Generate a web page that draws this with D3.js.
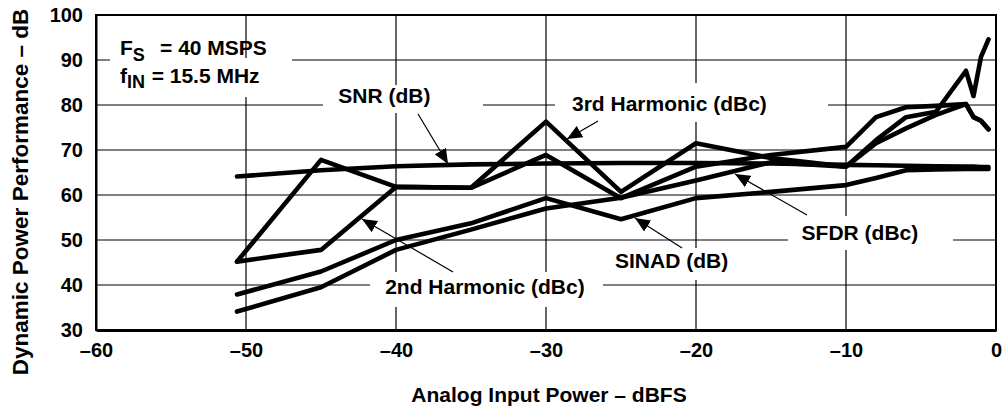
<!DOCTYPE html>
<html>
<head>
<meta charset="utf-8">
<script src="https://cdn.jsdelivr.net/npm/d3@7"></script>
<style>
  body { margin: 0; background: #fff; }
  text { font-family: "Liberation Sans", Arial, sans-serif; font-weight: bold; fill: #000; }
</style>
</head>
<body>
<div id="chart"></div>
<script>
'use strict';

// input power (dBFS) where each series was measured
const inputPower = [-50.6, -45, -40, -35, -30, -25, -20, -15, -10, -8, -6, -4, -2, -1.5, -1, -0.5];

// series values (dB / dBc)
const snr   = [64.1, 65.5, 66.4, 66.8, 67.0, 67.1, 67.1, 67.0, 66.7, 66.6, 66.5, 66.4, 66.3, 66.3, 66.2, 66.2];
const sinad = [37.9, 43.0, 50.0, 53.7, 59.3, 54.6, 59.3, 60.7, 62.2, 63.8, 65.5, 65.7, 65.8, 65.8, 65.8, 65.8];
const sfdr  = [34.1, 39.5, 47.8, 52.3, 57.0, 59.4, 63.2, 67.3, 66.3, 71.5, 74.8, 77.8, 80.2, 77.3, 76.5, 74.6];
const harm2 = [45.2, 47.8, 61.8, 61.6, 68.9, 59.3, 66.3, 68.9, 70.7, 77.3, 79.5, 79.8, 80.2, 77.3, 76.5, 74.6];
const harm3 = [45.2, 67.8, 61.8, 61.6, 76.3, 60.7, 71.5, 68.2, 66.3, 72.2, 77.3, 78.5, 87.6, 82.0, 90.7, 94.6];

const xTicks = [-60, -50, -40, -30, -20, -10, 0];
const yTicks = [30, 40, 50, 60, 70, 80, 90, 100];

const seriesList = [snr, sinad, sfdr, harm2, harm3];

const width = 1002, height = 407;

let svg = d3.select("#chart").append("svg")
  .attr("width", width)
  .attr("height", height);

let x = d3.scaleLinear().domain([-60, 0]).range([96, 996]);
let y = d3.scaleLinear().domain([30, 100]).range([330, 15]);

// grid
svg.append("g").selectAll("line")
  .data(yTicks.slice(1, -1))
  .enter().append("line")
  .attr("x1", x(-60)).attr("x2", x(0))
  .attr("y1", d => y(d)).attr("y2", d => y(d))
  .attr("stroke", "#000").attr("stroke-width", 1.2);

svg.append("g").selectAll("line")
  .data(xTicks.slice(1, -1))
  .enter().append("line")
  .attr("x1", d => x(d)).attr("x2", d => x(d))
  .attr("y1", y(100)).attr("y2", y(30))
  .attr("stroke", "#000").attr("stroke-width", 1.2);

// white boxes behind the labels (they cut the grid)
const boxes = [
  [-59.07, -46.93, 90.44, 81.78],   // Fs / fin
  [-44.87, -34.2, 84.44, 78.22],    // SNR
  [-29.4, -11.2, 84.89, 76.22],     // 3rd harmonic
  [-41.73, -26.2, 42.89, 35.11],    // 2nd harmonic
  [-26.2, -17.07, 48.22, 41.11],    // SINAD
  [-13.87, -2.87, 55.33, 47.78]     // SFDR
];
svg.append("g").selectAll("rect")
  .data(boxes)
  .enter().append("rect")
  .attr("x", d => x(d[0]))
  .attr("y", d => y(d[2]))
  .attr("width", d => x(d[1]) - x(d[0]))
  .attr("height", d => y(d[3]) - y(d[2]))
  .attr("fill", "#fff");

// frame
svg.append("rect")
  .attr("x", x(-60)).attr("y", y(100))
  .attr("width", x(0) - x(-60)).attr("height", y(30) - y(100))
  .attr("fill", "none").attr("stroke", "#000").attr("stroke-width", 2);

// axes
let xAxis = svg.append("g")
  .attr("transform", "translate(0," + y(30) + ")")
  .call(d3.axisBottom(x).tickValues(xTicks).tickSize(0).tickPadding(13)
    .tickFormat(d => d < 0 ? "\u2013" + Math.abs(d) : d));
xAxis.select(".domain").attr("stroke", "#000").attr("stroke-width", 3);
xAxis.selectAll("text").style("font-size", "20px");

let yAxis = svg.append("g")
  .attr("transform", "translate(" + x(-60) + ",0)")
  .call(d3.axisLeft(y).tickValues(yTicks).tickSize(0).tickPadding(13));
yAxis.select(".domain").attr("stroke", "#000").attr("stroke-width", 2);
yAxis.selectAll("text").style("font-size", "20px");

svg.append("text")
  .attr("x", 549).attr("y", 402)
  .attr("text-anchor", "middle")
  .style("font-size", "21px")
  .text("Analog Input Power \u2013 dBFS");

svg.append("text")
  .attr("transform", "translate(28,192) rotate(-90)")
  .attr("text-anchor", "middle")
  .style("font-size", "22.5px")
  .text("Dynamic Power Performance \u2013 dB");

// series lines
let line = d3.line()
  .x((d, i) => x(inputPower[i]))
  .y(d => y(d));

svg.append("g").selectAll("path")
  .data(seriesList)
  .enter().append("path")
  .attr("d", line)
  .attr("fill", "none")
  .attr("stroke", "#000")
  .attr("stroke-width", 4.6)
  .attr("stroke-linejoin", "round")
  .attr("stroke-linecap", "round");

// arrows
svg.append("defs").append("marker")
  .attr("id", "head")
  .attr("markerUnits", "userSpaceOnUse")
  .attr("markerWidth", 15).attr("markerHeight", 13)
  .attr("refX", 15).attr("refY", 6.5)
  .attr("orient", "auto")
  .append("path")
  .attr("d", "M0,0 L15,6.5 L0,13 Z")
  .attr("fill", "#000");

// label, text anchor (x, baseline), arrow from -> tip, all in data units
const notes = [
  {label: "SNR (dB)",           tx: -40.77, ty: 80.44, ax: -38.53, ay: 78.0,  bx: -36.53, by: 66.9},
  {label: "3rd Harmonic (dBc)", tx: -21.77, ty: 78.56, ax: -26.53, ay: 76.44, bx: -28.6,  by: 72.44},
  {label: "2nd Harmonic (dBc)", tx: -34.07, ty: 38.0,  ax: -36.2,  ay: 42.9,  bx: -42.27, by: 54.67},
  {label: "SINAD (dB)",         tx: -21.63, ty: 43.78, ax: -20.93, ay: 48.2,  bx: -24.07, by: 54.9},
  {label: "SFDR (dBc)",         tx: -9.07,  ty: 50.0,  ax: -12.6,  ay: 55.56, bx: -17.4,  by: 64.67}
];

svg.append("g").selectAll("line")
  .data(notes)
  .enter().append("line")
  .attr("x1", d => x(d.ax)).attr("y1", d => y(d.ay))
  .attr("x2", d => x(d.bx)).attr("y2", d => y(d.by))
  .attr("stroke", "#000").attr("stroke-width", 1.2)
  .attr("marker-end", "url(#head)");

svg.append("g").selectAll("text")
  .data(notes)
  .enter().append("text")
  .attr("x", d => x(d.tx)).attr("y", d => y(d.ty))
  .attr("text-anchor", "middle")
  .style("font-size", "21px")
  .text(d => d.label);

// conditions block
let cond = svg.append("g").style("font-size", "21px");
let t1 = cond.append("text").attr("x", x(-58.4)).attr("y", y(91.11));
t1.append("tspan").text("F");
t1.append("tspan").attr("dy", 6).style("font-size", "18px").text("S");
t1.append("tspan").attr("x", x(-55.73)).attr("dy", -6).text("= 40 MSPS");

let t2 = cond.append("text").attr("x", x(-58.4)).attr("y", y(84.82));
t2.append("tspan").text("f");
t2.append("tspan").attr("dy", 5).style("font-size", "18px").text("IN");
t2.append("tspan").attr("x", x(-56.29)).attr("dy", -5).text("= 15.5 MHz");
</script>
</body>
</html>
